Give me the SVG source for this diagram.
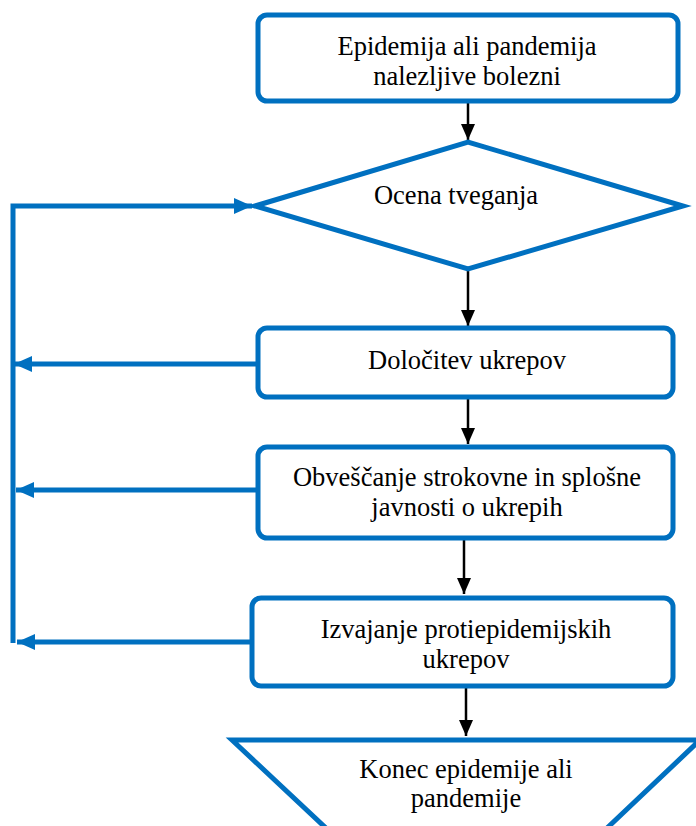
<svg xmlns="http://www.w3.org/2000/svg" width="696" height="826" viewBox="0 0 696 826">
<style>
.n{fill:#fff;stroke:#0070C0;stroke-width:5;stroke-linejoin:miter}
.t{font-family:"Liberation Serif","Times New Roman",serif;font-size:26.5px;fill:#000;text-anchor:middle}
.fb{fill:none;stroke:#0070C0;stroke-width:5}
.ar{fill:none;stroke:#000;stroke-width:2.5}
</style>
<defs>
<marker id="bk" markerUnits="userSpaceOnUse" markerWidth="16" markerHeight="16" refX="16" refY="8" orient="auto">
<path d="M0,1 L16,8 L0,15 Z" fill="#000"/>
</marker>
<marker id="bl" markerUnits="userSpaceOnUse" markerWidth="18" markerHeight="18" refX="18" refY="9" orient="auto">
<path d="M0,1 L18,9 L0,17 Z" fill="#0070C0"/>
</marker>
</defs>
<g id="connectors">
<line class="ar" x1="468" y1="102" x2="468" y2="140" marker-end="url(#bk)"/>
<line class="ar" x1="468" y1="269" x2="468" y2="326" marker-end="url(#bk)"/>
<line class="ar" x1="468" y1="398" x2="468" y2="444" marker-end="url(#bk)"/>
<line class="ar" x1="464" y1="540" x2="464" y2="594" marker-end="url(#bk)"/>
<line class="ar" x1="466" y1="688" x2="466" y2="736" marker-end="url(#bk)"/>
<polyline class="fb" points="13,643 13,206 252,206" marker-end="url(#bl)"/>
<line class="fb" x1="258" y1="364" x2="14" y2="364" marker-end="url(#bl)"/>
<line class="fb" x1="258" y1="490" x2="16" y2="490" marker-end="url(#bl)"/>
<line class="fb" x1="252" y1="642" x2="17" y2="642" marker-end="url(#bl)"/>
</g>
<g id="start">
<rect class="n" x="258" y="15" width="420" height="86" rx="9"/>
<text class="t" x="467" y="55">Epidemija ali pandemija</text>
<text class="t" x="467" y="85">nalezljive bolezni</text>
</g>
<g id="risk">
<polygon class="n" points="255,206 468,142 683,206 468,269"/>
<text class="t" x="456" y="204">Ocena tveganja</text>
</g>
<g id="measures">
<rect class="n" x="258" y="328" width="415" height="69" rx="9"/>
<text class="t" x="467" y="369">Določitev ukrepov</text>
</g>
<g id="inform">
<rect class="n" x="258" y="447" width="415" height="91" rx="9"/>
<text class="t" x="467" y="486">Obveščanje strokovne in splošne</text>
<text class="t" x="467" y="516">javnosti o ukrepih</text>
</g>
<g id="implement">
<rect class="n" x="252" y="598" width="421" height="88" rx="9"/>
<text class="t" x="466" y="638">Izvajanje protiepidemijskih</text>
<text class="t" x="466" y="668">ukrepov</text>
</g>
<g id="end">
<polygon class="n" points="232,740 700,740 605,830 328,830"/>
<text class="t" x="466" y="778">Konec epidemije ali</text>
<text class="t" x="466" y="807">pandemije</text>
</g>
</svg>
